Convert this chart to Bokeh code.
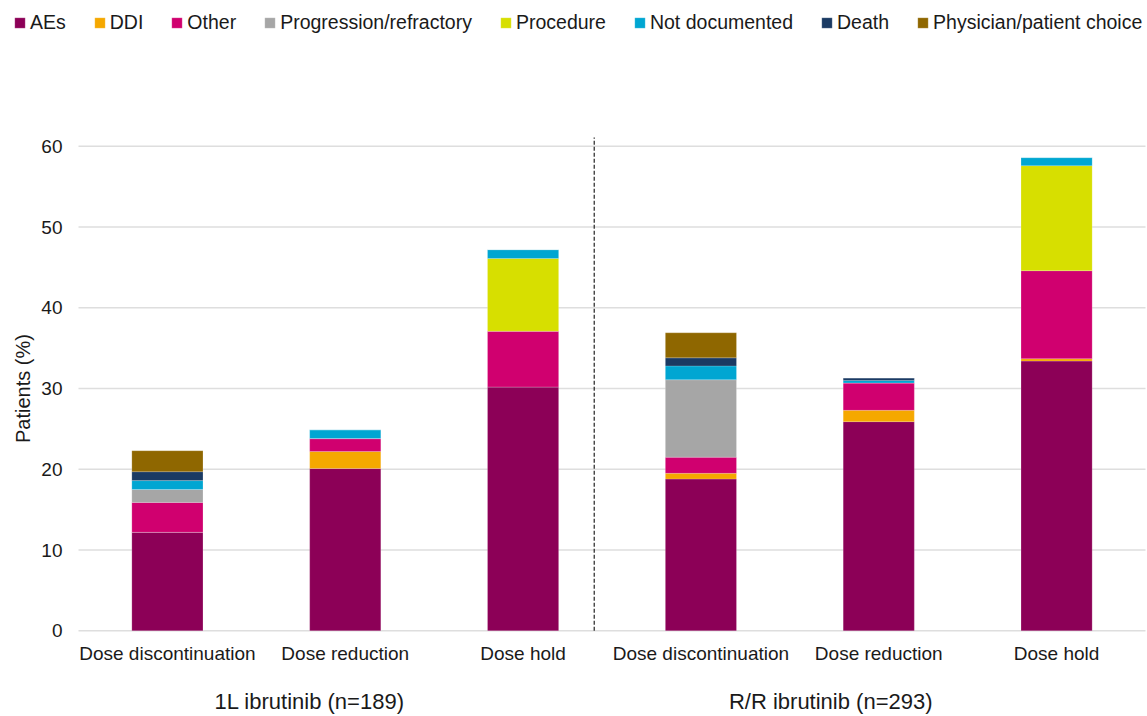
import math
from bokeh.plotting import figure
from bokeh.models import (Range1d, FixedTicker, Legend, LegendItem, ColumnDataSource,
                          LinearAxis)
from bokeh.core.properties import value
from bokeh.embed import file_html
from bokeh.resources import INLINE

# ---- data ----
categories = ["Dose discontinuation", "Dose reduction", "Dose hold",
              "Dose discontinuation", "Dose reduction", "Dose hold"]
groups = ["1L ibrutinib (n=189)", "R/R ibrutinib (n=293)"]
series = ["AEs", "DDI", "Other", "Progression/refractory", "Procedure",
          "Not documented", "Death", "Physician/patient choice"]
aes        = [12.2, 20.1, 30.2, 18.8, 25.9, 33.4]
ddi        = [0.0, 2.1, 0.0, 0.7, 1.4, 0.3]
other      = [3.7, 1.6, 6.9, 2.0, 3.4, 10.9]
progression = [1.6, 0.0, 0.0, 9.6, 0.0, 0.0]
procedure  = [0.0, 0.0, 9.0, 0.0, 0.0, 13.0]
not_doc    = [1.1, 1.1, 1.1, 1.7, 0.3, 1.0]
death      = [1.1, 0.0, 0.0, 1.0, 0.3, 0.0]
physician  = [2.6, 0.0, 0.0, 3.1, 0.0, 0.0]
y_ticks = [0, 10, 20, 30, 40, 50, 60]
y_title = "Patients (%)"

colors = ["#8C0057", "#F5A800", "#D0006F", "#A6A6A6", "#D7DF00",
          "#00A6D2", "#1A3A63", "#8F6700"]

FONT = "Liberation Sans"
TXT = "#1a1a1a"

# layout constants (data units)
X_START, X_END = 0.0614, 6.5112     # frame covers the full page width
Y_START, Y_END = -1.2, 78.05        # frame reaches the page top, a little below 0
PLOT_X0, PLOT_X1 = 0.5, 6.5         # extent of the gridlines
YLAB_X = 0.41                       # right edge of y tick labels
YTITLE_X, YTITLE_Y = 0.19, 30
SEP_X, SEP_TOP = 3.40, 61.1
GROUP_X = [1.80, 4.73]

xs = list(range(1, len(categories) + 1))
keys = ["aes", "ddi", "other", "prog", "proc", "nd", "death", "phys"]
src = ColumnDataSource(dict(x=xs, aes=aes, ddi=ddi, other=other, prog=progression,
                            proc=procedure, nd=not_doc, death=death, phys=physician))

p = figure(width=1147, height=716, output_backend="svg", toolbar_location=None,
           x_range=Range1d(X_START, X_END), y_range=Range1d(Y_START, Y_END),
           y_axis_type=None,
           min_border_left=0, min_border_right=0, min_border_top=0,
           min_border_bottom=75)
p.outline_line_color = None
p.xgrid.grid_line_color = None
p.ygrid.grid_line_color = None

# gridlines
n = len(y_ticks)
p.segment(x0=[PLOT_X0] * n, y0=y_ticks, x1=[PLOT_X1] * n, y1=y_ticks,
          line_color="#dedede", line_width=1.5)

# y tick labels and title
p.text(x=[YLAB_X] * n, y=y_ticks, text=[str(t) for t in y_ticks],
       text_font=value(FONT), text_font_size=value("19px"), text_color=TXT,
       text_align="right", text_baseline="middle")
p.text(x=[YTITLE_X], y=[YTITLE_Y], text=[y_title], angle=math.pi / 2,
       text_font=value(FONT), text_font_size=value("20px"), text_color=TXT,
       text_align="center", text_baseline="middle")

renderers = p.vbar_stack(keys, x="x", width=0.4, source=src, color=colors,
                         line_color="white", line_width=0.6, line_alpha=0.3)

# separator
p.segment(x0=[SEP_X], y0=[0], x1=[SEP_X], y1=[SEP_TOP], line_color="#222222",
          line_width=1.2, line_dash="4 2")

# x axis with category labels
p.xaxis.ticker = FixedTicker(ticks=xs)
p.xaxis.major_label_overrides = {x: c for x, c in zip(xs, categories)}
p.xaxis.major_label_standoff = -4

g1 = LinearAxis(ticker=FixedTicker(ticks=GROUP_X),
                major_label_overrides={gx: g for gx, g in zip(GROUP_X, groups)},
                major_label_standoff=16)
p.add_layout(g1, "below")

for ax in (p.xaxis[0], g1):
    ax.axis_line_color = None
    ax.major_tick_line_color = None
    ax.minor_tick_line_color = None
    ax.major_label_text_font = FONT
    ax.major_label_text_font_size = "19px"
    ax.major_label_text_color = TXT
g1.major_label_text_font_size = "22px"

legend = Legend(items=[LegendItem(label=s, renderers=[r]) for s, r in zip(series, renderers)],
                orientation="horizontal", location=(13, 606),
                glyph_width=13, glyph_height=13, label_standoff=4, spacing=27,
                padding=0, margin=0, border_line_color=None,
                background_fill_alpha=0,
                label_text_font=FONT, label_text_font_size="19.5px",
                label_text_color=TXT)
p.add_layout(legend)

open("out.html", "w").write(file_html(p, INLINE))
